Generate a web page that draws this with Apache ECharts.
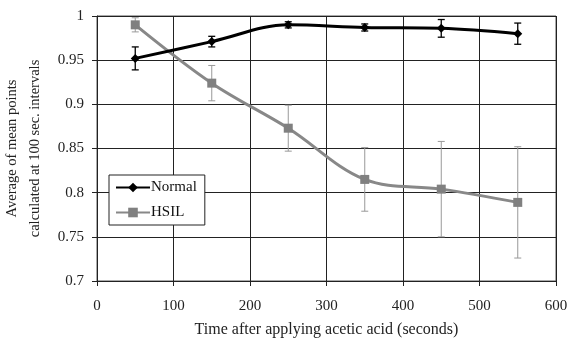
<!DOCTYPE html>
<html><head><meta charset="utf-8">
<script src="https://cdn.jsdelivr.net/npm/echarts@6/dist/echarts.min.js"></script>
<style>html,body{margin:0;padding:0;background:#fff}#c{width:569px;height:339px}</style>
</head><body><div id="c"></div>
<script>
const times = [50, 150, 250, 350, 450, 550];
const normalMean = [0.952, 0.971, 0.990, 0.987, 0.986, 0.980];
const normalErr = [0.013, 0.006, 0.0035, 0.004, 0.010, 0.012];
const hsilMean = [0.990, 0.924, 0.873, 0.815, 0.804, 0.789];
const hsilErr = [0.008, 0.020, 0.026, 0.036, 0.054, 0.063];
const xTicks = [0, 100, 200, 300, 400, 500, 600];
const yTicks = [0.7, 0.75, 0.8, 0.85, 0.9, 0.95, 1];

const FONT = 'Liberation Serif';
const chart = echarts.init(document.getElementById('c'), null, {renderer: 'canvas'});

function errSeries(mean, err, color, lw) {
  return {
    type: 'custom',
    silent: true,
    z: 1,
    data: times.map((t, i) => [t, mean[i] - err[i], mean[i] + err[i]]),
    renderItem: function (params, api) {
      const lo = api.coord([api.value(0), api.value(1)]);
      const hi = api.coord([api.value(0), api.value(2)]);
      const w = 3.5;
      const st = {stroke: color, lineWidth: lw};
      return {type: 'group', children: [
        {type: 'line', shape: {x1: lo[0], y1: lo[1], x2: hi[0], y2: hi[1]}, style: st},
        {type: 'line', shape: {x1: lo[0] - w, y1: lo[1], x2: lo[0] + w, y2: lo[1]}, style: st},
        {type: 'line', shape: {x1: hi[0] - w, y1: hi[1], x2: hi[0] + w, y2: hi[1]}, style: st}
      ]};
    }
  };
}

chart.setOption({
  animation: false,
  textStyle: {fontFamily: FONT},
  grid: {left: 97, right: 13, top: 16, bottom: 58, show: true, borderColor: '#555', borderWidth: 1,
    containLabel: false, outerBoundsMode: 'none'},
  legend: {
    orient: 'vertical', left: 109, top: 175,
    backgroundColor: '#fff',
    borderColor: '#222', borderWidth: 1, borderRadius: 0,
    padding: [5, 8, 5, 6], itemGap: 10,
    itemWidth: 34, itemHeight: 12,
    textStyle: {fontFamily: FONT, fontSize: 15, color: '#111', padding: [0, 0, 0, -4]},
    data: ['Normal', 'HSIL']
  },
  xAxis: {
    type: 'value', min: xTicks[0], max: xTicks[xTicks.length - 1], interval: 100,
    name: 'Time after applying acetic acid (seconds)', nameLocation: 'middle', nameGap: 41,
    nameTextStyle: {fontFamily: FONT, fontSize: 16, color: '#222'},
    axisLine: {show: true, onZero: false, lineStyle: {color: '#222'}},
    axisTick: {show: true, length: 5, lineStyle: {color: '#222'}},
    axisLabel: {fontFamily: FONT, fontSize: 15, color: '#222', margin: 18},
    splitLine: {show: true, lineStyle: {color: '#222', width: 1}}
  },
  yAxis: {
    type: 'value', min: yTicks[0], max: yTicks[yTicks.length - 1], interval: 0.05,
    name: 'Average of mean points\ncalculated at 100 sec. intervals', nameLocation: 'middle', nameGap: 42,
    nameTextStyle: {fontFamily: FONT, fontSize: 14.5, color: '#222', lineHeight: 23},
    axisLine: {show: true, lineStyle: {color: '#222'}},
    axisTick: {show: true, length: 5, lineStyle: {color: '#222'}},
    axisLabel: {fontFamily: FONT, fontSize: 15, color: '#222', margin: 13,
      formatter: v => String(parseFloat(v.toFixed(2)))},
    splitLine: {show: true, lineStyle: {color: '#222', width: 1}}
  },
  series: [
    errSeries(hsilMean, hsilErr, '#999', 1),
    errSeries(normalMean, normalErr, '#000', 1.3),
    {
      name: 'HSIL', type: 'line', smooth: 0.35, z: 3,
      data: times.map((t, i) => [t, hsilMean[i]]),
      symbol: 'rect', symbolSize: 9,
      lineStyle: {color: '#888', width: 3},
      itemStyle: {color: '#808080'}
    },
    {
      name: 'Normal', type: 'line', smooth: 0.35, z: 4,
      data: times.map((t, i) => [t, normalMean[i]]),
      symbol: 'diamond', symbolSize: 9,
      lineStyle: {color: '#000', width: 3},
      itemStyle: {color: '#000'}
    }
  ]
});
</script></body></html>
